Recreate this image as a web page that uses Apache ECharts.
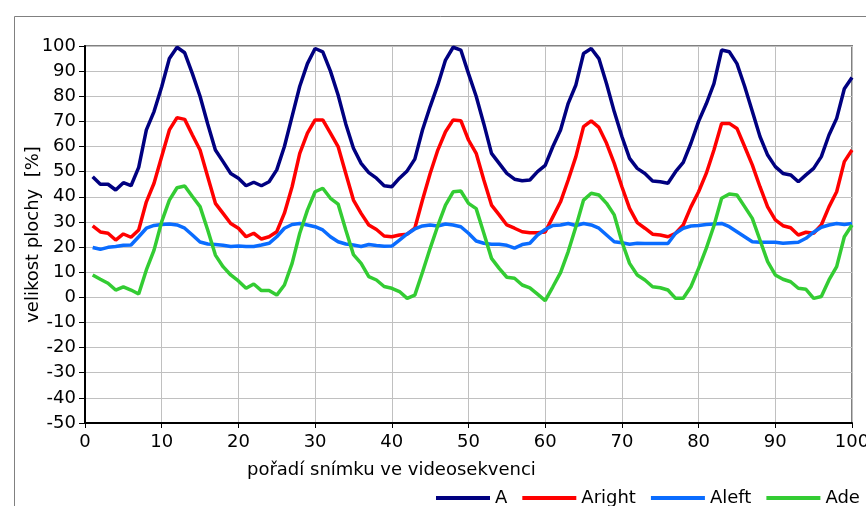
<!DOCTYPE html>
<html>
<head>
<meta charset="utf-8">
<script src="https://cdn.jsdelivr.net/npm/echarts@6/dist/echarts.min.js"></script>
<style>
  html, body { margin: 0; padding: 0; background: #fff; }
  #chart { width: 866px; height: 506px; }
</style>
</head>
<body>
<div id="chart"></div>
<script>
// Frame numbers within the video sequence
const frames = [
  1, 2, 3, 4, 5, 6, 7, 8, 9, 10, 11, 12, 13, 14, 15, 16, 17, 18, 19, 20,
  21, 22, 23, 24, 25, 26, 27, 28, 29, 30, 31, 32, 33, 34, 35, 36, 37, 38, 39, 40,
  41, 42, 43, 44, 45, 46, 47, 48, 49, 50, 51, 52, 53, 54, 55, 56, 57, 58, 59, 60,
  61, 62, 63, 64, 65, 66, 67, 68, 69, 70, 71, 72, 73, 74, 75, 76, 77, 78, 79, 80,
  81, 82, 83, 84, 85, 86, 87, 88, 89, 90, 91, 92, 93, 94, 95, 96, 97, 98, 99, 100
];

// Area size [%] per frame
const valuesA = [
  48, 45, 45, 42.7, 45.6, 44.4, 51.7, 66.6, 73.9, 83.8, 95, 99.5, 97.3, 89, 80, 69, 58.6, 54, 49.3, 47.4,
  44.4, 45.8, 44.4, 46, 50.7, 60, 72, 84, 93, 99, 97.7, 90, 80.5, 69, 59.3, 53.3, 49.6, 47.4, 44.4, 44,
  47.4, 50.3, 55, 66.6, 75.9, 84.5, 94.4, 99.5, 98.4, 89, 80, 69, 57.3, 53.3, 49.3, 47, 46.4, 46.7, 50, 52.5,
  60, 66.6, 77.2, 84.5, 97, 99, 95, 85, 73.9, 64, 55.3, 51.3, 49.3, 46.3, 46, 45.4, 50, 53.7, 61.3, 70,
  77, 85, 98.4, 97.7, 93, 84, 74, 64, 56.6, 52, 49.3, 48.7, 46, 48.7, 51.3, 56, 64.6, 71.2, 83, 87.5
];

const valuesAright = [
  28.4, 26, 25.5, 22.8, 25.2, 23.9, 26.8, 38, 45.4, 56, 66.6, 71.5, 70.8, 64.6, 58.6, 48, 37.4, 33.4, 29.4, 27.5,
  24.1, 25.5, 23.2, 24.1, 26.1, 33.5, 44, 57.3, 65.3, 70.6, 70.6, 65.3, 60, 49.3, 38.7, 33.4, 28.8, 27, 24.4, 24.1,
  24.8, 25.1, 27.5, 38.7, 49.3, 58.6, 65.9, 70.6, 70.3, 62.6, 57.3, 46.7, 36.7, 32.8, 28.8, 27.5, 26.1, 25.7, 25.7, 26,
  32, 38, 46.7, 56, 67.9, 70.2, 67.6, 61.3, 53.3, 44, 35.4, 29.7, 27.5, 25.1, 24.8, 24.1, 25.5, 28.8, 36, 42,
  49.3, 58.6, 69.2, 69.2, 67.2, 60, 52.7, 44, 36, 30.8, 28.5, 27.7, 24.8, 25.9, 25.5, 28.8, 36, 42, 54, 58.6
];

const valuesAleft = [
  19.8, 19.1, 19.9, 20.2, 20.7, 20.8, 24.1, 27.5, 28.6, 29, 29.2, 28.8, 27.5, 24.8, 22, 21.2, 21, 20.7, 20.2, 20.4,
  20.2, 20.2, 20.8, 21.5, 24.1, 27.5, 29, 29.4, 28.8, 28.1, 26.8, 24.1, 22.1, 21.2, 20.8, 20.2, 21, 20.6, 20.3, 20.4,
  22.8, 25.2, 27.2, 28.4, 28.8, 28.4, 29.2, 28.8, 28.1, 25.5, 22.4, 21.5, 21.1, 21.1, 20.7, 19.6, 21, 21.5, 24.8, 27,
  28.6, 28.8, 29.4, 28.6, 29.4, 28.8, 27.5, 24.8, 22.1, 21.7, 21.1, 21.5, 21.4, 21.4, 21.4, 21.4, 25.5, 27.5, 28.4, 28.6,
  29, 29.2, 29.4, 28.1, 26.1, 24.1, 22.1, 21.9, 21.9, 21.9, 21.5, 21.7, 21.9, 23.5, 25.9, 27.9, 28.8, 29.4, 29, 29.4
];

const valuesAde = [
  8.9, 7.2, 5.6, 2.9, 4.2, 2.9, 1.3, 10.9, 18.8, 30.1, 38.7, 43.6, 44.3, 40.1, 36.1, 26.8, 16.8, 12.2, 8.9, 6.5,
  3.6, 5.3, 2.7, 2.7, 0.9, 4.9, 13.5, 25.5, 34.7, 42, 43.4, 39.4, 37.1, 26.8, 17, 13.5, 8.2, 6.9, 4.3, 3.6,
  2.3, -0.4, 0.9, 10, 19.5, 28.5, 36.7, 42, 42.3, 37.4, 35.3, 25.5, 15.5, 11.5, 8, 7.6, 4.9, 3.8, 1.3, -1.3,
  4.2, 9.8, 18.2, 28.1, 38.7, 41.4, 40.7, 37.4, 32.8, 22.1, 13.5, 8.9, 6.9, 4.2, 3.8, 2.9, -0.4, -0.4, 4.2, 11.5,
  19.5, 28.5, 39.4, 41.1, 40.7, 36.1, 31.4, 22.8, 14.2, 8.9, 7.2, 6.2, 3.6, 3.2, -0.4, 0.3, 6.9, 12.2, 24.1, 28.8
];

const seriesNames = ['A', 'Aright', 'Aleft', 'Ade'];
const seriesValues = [valuesA, valuesAright, valuesAleft, valuesAde];
const seriesColors = ['#000080', '#ff0000', '#0a6cff', '#33cc33'];

const xTitle = 'pořadí snímku ve videosekvenci';
const yTitle = 'velikost plochy  [%]';

const FONT = 'DejaVu Sans';

const chart = echarts.init(document.getElementById('chart'), null, { renderer: 'canvas' });

function toPairs(vals) {
  return frames.map((f, i) => [f, vals[i]]);
}

const option = {
  animation: false,
  backgroundColor: '#ffffff',
  grid: {
    left: 85, top: 46, right: 14, bottom: 83,
    outerBoundsMode: 'none',
    show: true, borderColor: '#808080', borderWidth: 2
  },
  xAxis: {
    type: 'value', min: 0, max: 100, interval: 10,
    axisLine: { show: true, onZero: false, lineStyle: { color: '#000', width: 2 } },
    axisTick: { show: true, length: 5, lineStyle: { color: '#000', width: 1 } },
    splitLine: { show: true, lineStyle: { color: '#c0c0c0', width: 1 } },
    axisLabel: { color: '#000', fontSize: 18, fontFamily: FONT, margin: 10 }
  },
  yAxis: {
    type: 'value', min: -50, max: 100, interval: 10,
    name: yTitle, nameLocation: 'middle', nameGap: 43, nameMoveOverlap: false,
    nameTextStyle: { color: '#000', fontSize: 18, fontFamily: FONT },
    axisLine: { show: true, onZero: false, lineStyle: { color: '#000', width: 2 } },
    axisTick: { show: true, length: 6, lineStyle: { color: '#000', width: 1 } },
    splitLine: { show: true, lineStyle: { color: '#c0c0c0', width: 1 } },
    axisLabel: { color: '#000', fontSize: 18, fontFamily: FONT, margin: 9 }
  },
  legend: {
    left: 436, top: 489, width: 700, padding: 0,
    icon: 'rect', itemWidth: 54, itemHeight: 4, itemGap: 15,
    textStyle: { color: '#000', fontSize: 18, fontFamily: FONT },
    data: seriesNames
  },
  graphic: [
    {
      type: 'rect', silent: true, z: -10,
      shape: { x: 14.5, y: 16.5, width: 900, height: 600 },
      style: { fill: 'none', stroke: '#808080', lineWidth: 1 }
    },
    {
      type: 'text', left: 247, top: 461,
      style: { text: xTitle, fill: '#000', fontSize: 18, fontFamily: FONT }
    }
  ],
  series: seriesNames.map((name, i) => ({
    name: name,
    type: 'line',
    data: toPairs(seriesValues[i]),
    showSymbol: false,
    symbol: 'none',
    lineStyle: { color: seriesColors[i], width: 3.5 },
    itemStyle: { color: seriesColors[i] }
  }))
};

chart.setOption(option);
</script>
</body>
</html>
